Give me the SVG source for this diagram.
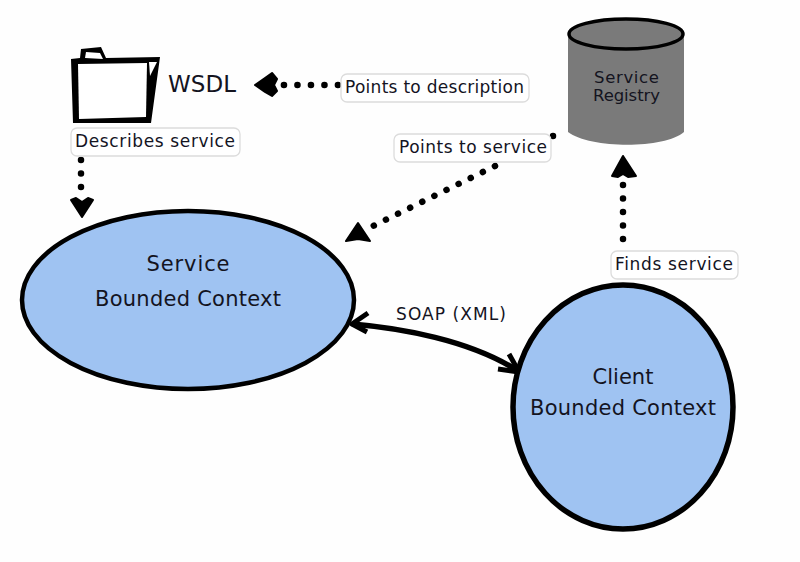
<svg xmlns="http://www.w3.org/2000/svg" width="800" height="562" viewBox="0 0 800 562">
<style>
text{font-family:"DejaVu Sans","Liberation Sans",sans-serif;fill:#14141f}
.ctx{fill:#9fc3f2;stroke:#000;stroke-width:4.5}
.lbl{fill:#fff;stroke:#dcdcdc;stroke-width:1.3}
.dot{fill:none;stroke:#000;stroke-width:6.5;stroke-linecap:round;stroke-dasharray:.1 13.4}
.head{fill:#000;stroke:#000;stroke-width:2;stroke-linejoin:round}
.t16{font-size:17px}
.t20{font-size:21px;text-anchor:middle}
.t15{font-size:16.5px;text-anchor:middle}
</style>
<rect width="800" height="562" fill="#fefefe"/>
<g id="connectors">
<path class="dot" d="M338 85H283"/>
<path class="head" d="M255 85L265 78L272 73L277 79L274 85L277 91L272 96L265 92Z"/>
<path class="dot" d="M81 160V187"/>
<path class="head" d="M82 217L71 200L76 198L82 202L88 198L93 200Z"/>
<path class="dot" d="M553 136V136.2M495 166L373 226"/>
<path class="head" d="M346 241L358 223L370 241L358 239Z"/>
<path class="dot" d="M623 239V183"/>
<path class="head" d="M623 156L636 176L628 177L623 174L618 177L612 176Z"/>
<path d="M352 324C400 328 470 340 518 371" fill="none" stroke="#000" stroke-width="5.5"/>
<path d="M368 313L352 324L367 332M509 354L519 372L498 369" fill="none" stroke="#000" stroke-width="5" stroke-linejoin="round"/>
</g>
<g id="wsdl">
<path d="M71 59L80 58L81 49L101 47L106 58L160 57L151 123L73 123Z" fill="#000"/>
<path d="M78 64L147 63L146 117L79 119Z" fill="#fff"/>
<path d="M85 58L86 52L100 53L103 59Z" fill="#fff"/>
<path d="M149 62L157 62L150 76Z" fill="#fff"/>
<text x="168" y="92" font-size="23" textLength="68">WSDL</text>
</g>
<g id="describes-label">
<rect class="lbl" x="71" y="128" width="169" height="28" rx="6"/>
<text class="t16" x="75" y="147" textLength="160">Describes service</text>
</g>
<g id="points-description-label">
<rect class="lbl" x="341" y="74" width="188" height="28" rx="6"/>
<text class="t16" x="345" y="93" textLength="179">Points to description</text>
</g>
<g id="points-service-label">
<rect class="lbl" x="394" y="134" width="157" height="28" rx="6"/>
<text class="t16" x="399" y="153" textLength="148">Points to service</text>
</g>
<g id="finds-label">
<rect class="lbl" x="611" y="251" width="127" height="28" rx="6"/>
<text class="t16" x="615" y="270" textLength="118">Finds service</text>
</g>
<g id="registry">
<path d="M568 34V132C590 149 665 149 684 132V34Z" fill="#7a7a7a"/>
<ellipse cx="626" cy="34" rx="57" ry="15" fill="#7a7a7a" stroke="#000" stroke-width="3.5"/>
<text class="t15" x="626.500" y="83" textLength="65">Service</text>
<text class="t15" x="626.500" y="101" textLength="67">Registry</text>
</g>
<g id="service-context">
<ellipse class="ctx" cx="188" cy="300" rx="166" ry="89"/>
<text class="t20" x="188" y="271" textLength="83">Service</text>
<text class="t20" x="188" y="306" textLength="186">Bounded Context</text>
</g>
<g id="client-context">
<ellipse class="ctx" cx="623" cy="407" rx="110" ry="122" style="stroke-width:5.5"/>
<text class="t20" x="623" y="384">Client</text>
<text class="t20" x="623" y="415" textLength="186">Bounded Context</text>
</g>
<g id="soap-label">
<text class="t16" x="396" y="320" textLength="110">SOAP (XML)</text>
</g>
</svg>
